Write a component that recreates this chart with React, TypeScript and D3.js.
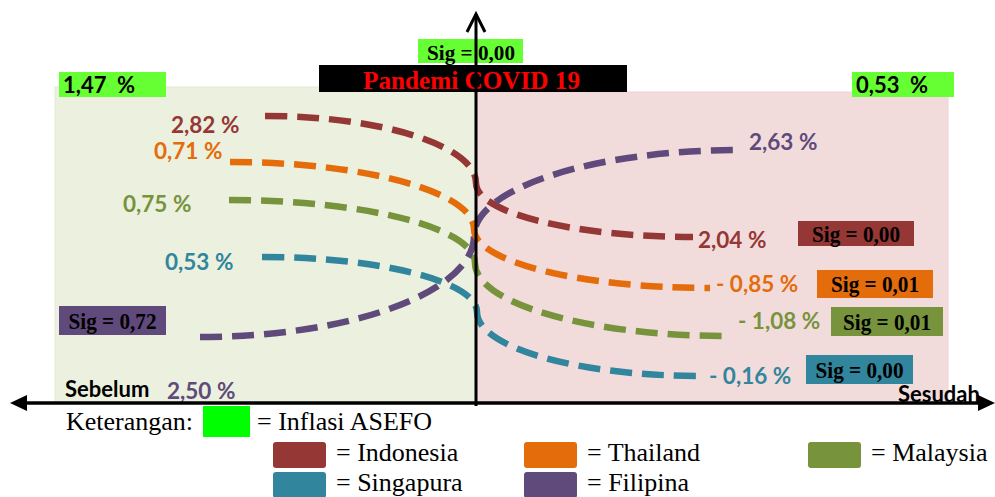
import React from 'react';
import * as d3 from 'd3';

// ---------- data ----------
const countries = ['Indonesia', 'Thailand', 'Malaysia', 'Singapura', 'Filipina'];
const beforeValues = [2.82, 0.71, 0.75, 0.53, 2.5];
const afterValues = [2.04, -0.85, -1.08, -0.16, 2.63];
const sigValues = [0.0, 0.01, 0.01, 0.0, 0.72];
const asefoBefore = 1.47;
const asefoAfter = 0.53;
const asefoSig = 0.0;
const phaseLabels = ['Sebelum', 'Sesudah'];
const eventLabel = 'Pandemi COVID 19';
const legendTitle = 'Keterangan:';
const asefoLegend = 'Inflasi ASEFO';

// ---------- styles / layout ----------
const COLORS: Record<string, string> = {
  Indonesia: '#953735',
  Thailand: '#e46c0a',
  Malaysia: '#77933c',
  Singapura: '#31859c',
  Filipina: '#604a7b',
};
const SANS = "Lato, 'Open Sans', 'DejaVu Sans', sans-serif";
const SERIF = "'Liberation Serif', 'Times New Roman', serif";

// schematic anchor points (start, centre crossing, end) for each country path
const LAYOUT: Record<string, any> = {
  Indonesia: { s: [265, 116], m: [476, 183], e: [693, 237], lb: [171, 133], la: [698, 248], sig: [798, 221, 116, 25] },
  Thailand: { s: [230, 162], m: [474, 229], e: [710, 288], lb: [154, 159], la: [716, 292], sig: [817, 270, 116, 28] },
  Malaysia: { s: [229, 200], m: [475, 263], e: [727, 336], lb: [123, 212], la: [738, 329], sig: [831, 307, 112, 29] },
  Singapura: { s: [262, 257], m: [477, 312], e: [701, 376], lb: [165, 270], la: [709, 384], sig: [806, 355, 107, 29] },
  Filipina: { s: [200, 337], m: [474, 236], e: [740, 150], lb: [167, 399], la: [749, 150], sig: [59, 306, 107, 29] },
};

const locale = d3.formatLocale({ decimal: ',', thousands: '.', grouping: [3], currency: ['', ''] });
const f2 = locale.format('.2f');
const fmtPct = (v: number) => (v < 0 ? '- ' : '') + f2(Math.abs(v)) + ' %';
const fmtSig = (v: number) => 'Sig = ' + f2(v);

function curvePath(s: number[], m: number[], e: number[]) {
  const k = 0.5523;
  const p = d3.path();
  p.moveTo(s[0], s[1]);
  p.bezierCurveTo(s[0] + k * (m[0] - s[0]), s[1], m[0], m[1] - k * (m[1] - s[1]), m[0], m[1]);
  p.bezierCurveTo(m[0], m[1] + k * (e[1] - m[1]), e[0] - k * (e[0] - m[0]), e[1], e[0], e[1]);
  return p.toString();
}

const drawOrder = ['Indonesia', 'Malaysia', 'Singapura', 'Filipina', 'Thailand'];

const legendCols = [273, 524, 808];
const legendRows = [442, 472];

export default function App() {
  const W = 995;
  const H = 497;
  return (
    <svg
      width={W}
      height={H}
      style={{ position: 'absolute', left: 0, top: 0, background: '#ffffff' }}
    >
      {/* panels */}
      <rect x={55} y={87} width={421} height={316} fill="#ebf1de" stroke="#e3ead3" strokeWidth={1} />
      <rect x={477} y={92} width={471} height={311} fill="#f2dcdb" stroke="#ecd5d4" strokeWidth={1} />

      {/* top labels */}
      <rect x={418} y={39} width={105} height={24} fill="#66ff33" />
      <text x={427} y={60} fontFamily={SERIF} fontWeight="bold" fontSize={22} textLength={88} lengthAdjust="spacingAndGlyphs" fill="#000">
        {fmtSig(asefoSig)}
      </text>
      <rect x={319} y={65} width={308} height={27} fill="#000" />
      <text x={363} y={89} fontFamily={SERIF} fontWeight="bold" fontSize={26} textLength={217} lengthAdjust="spacingAndGlyphs" fill="#ff0000">
        {eventLabel}
      </text>

      <rect x={59} y={72} width={107} height={25} fill="#66ff33" />
      <text x={63} y={93} fontFamily={SANS} fontWeight="bold" fontSize={22} fill="#000" style={{ whiteSpace: 'pre' }}>
        {f2(asefoBefore) + '  %'}
      </text>
      <rect x={852} y={72} width={102} height={25} fill="#66ff33" />
      <text x={856} y={93} fontFamily={SANS} fontWeight="bold" fontSize={22} fill="#000" style={{ whiteSpace: 'pre' }}>
        {f2(asefoAfter) + '  %'}
      </text>

      {/* curves */}
      {drawOrder.map((c) => {
        const L = LAYOUT[c];
        return (
          <path
            key={c}
            d={curvePath(L.s, L.m, L.e)}
            fill="none"
            stroke={COLORS[c]}
            strokeWidth={6.5}
            strokeDasharray="22 10"
          />
        );
      })}

      {/* value labels */}
      {countries.map((c, i) => {
        const L = LAYOUT[c];
        return (
          <g key={c} fontFamily={SANS} fontWeight="bold" fontSize={22.5} fill={COLORS[c]}>
            <text x={L.lb[0]} y={L.lb[1]}>{fmtPct(beforeValues[i])}</text>
            <text x={L.la[0]} y={L.la[1]}>{fmtPct(afterValues[i])}</text>
          </g>
        );
      })}

      {/* sig boxes */}
      {countries.map((c, i) => {
        const [x, y, w, h] = LAYOUT[c].sig;
        return (
          <g key={c}>
            <rect x={x} y={y} width={w} height={h} fill={COLORS[c]} />
            <text
              x={x + (w - 88) / 2}
              y={y + h / 2 + 8}
              fontFamily={SERIF}
              fontWeight="bold"
              fontSize={23}
              textLength={88}
              lengthAdjust="spacingAndGlyphs"
              fill="#000"
            >
              {fmtSig(sigValues[i])}
            </text>
          </g>
        );
      })}

      {/* phase labels */}
      <text x={65} y={397} fontFamily={SANS} fontWeight="bold" fontSize={22} fill="#000">
        {phaseLabels[0]}
      </text>
      <text x={898} y={402} fontFamily={SANS} fontWeight="bold" fontSize={22} fill="#000">
        {phaseLabels[1]}
      </text>

      {/* axes */}
      <line x1={476} y1={406} x2={476} y2={14} stroke="#000" strokeWidth={3} />
      <polyline points="467,32 476,14 485,32" fill="none" stroke="#000" strokeWidth={3} />
      <line x1={20} y1={403} x2={985} y2={403} stroke="#000" strokeWidth={3.5} />
      <polygon points="10,403 27,395 27,411" fill="#000" />
      <polygon points="995,403 978,395 978,411" fill="#000" />

      {/* legend */}
      <text x={66} y={430} fontFamily={SERIF} fontSize={26} fill="#000">
        {legendTitle}
      </text>
      <rect x={203} y={406} width={47} height={31} fill="#00ff00" />
      <text x={257} y={430} fontFamily={SERIF} fontSize={26} fill="#000">
        {'= ' + asefoLegend}
      </text>
      {countries.map((c, i) => {
        const x = legendCols[i % 3];
        const y = legendRows[Math.floor(i / 3)];
        return (
          <g key={c}>
            <rect x={x} y={y} width={53} height={26} rx={3} fill={COLORS[c]} />
            <text x={x + 63} y={y + 19} fontFamily={SERIF} fontSize={26} fill="#000">
              {'= ' + c}
            </text>
          </g>
        );
      })}
    </svg>
  );
}
